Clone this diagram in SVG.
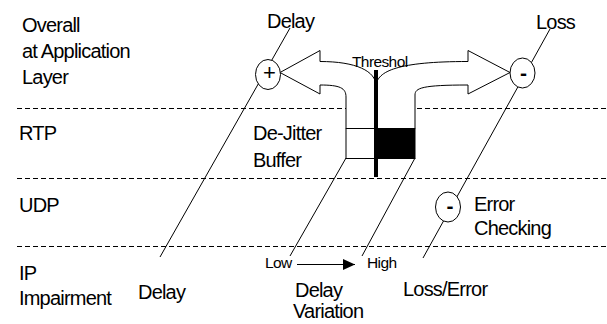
<svg xmlns="http://www.w3.org/2000/svg" width="607" height="324" viewBox="0 0 607 324">
  <style>
    text { font-family: "Liberation Sans", Arial, sans-serif; font-size: 20px; letter-spacing: -0.8px; fill: #000; }
    .small { font-size: 15.5px; letter-spacing: -0.6px; }
    .sign { font-size: 21px; font-weight: bold; text-anchor: middle; letter-spacing: 0; }
    .plus { font-size: 22px; text-anchor: middle; letter-spacing: 0; }
    .layer { stroke: #000; stroke-width: 1; stroke-dasharray: 5 3; }
    .wire { stroke: #000; stroke-width: 1; fill: none; }
    .circle { fill: #fff; stroke: #000; stroke-width: 1; }
  </style>
  <defs>
    <marker id="head" markerWidth="12" markerHeight="11" refX="12" refY="5.5" orient="auto" markerUnits="userSpaceOnUse">
      <path d="M0,0 L12,5.5 L0,11 Z" fill="#000"/>
    </marker>
  </defs>

  <rect width="607" height="324" fill="#fff"/>

  <!-- layer separators -->
  <g id="layers">
    <line class="layer" x1="17" y1="108.5" x2="607" y2="108.5"/>
    <line class="layer" x1="17" y1="178.5" x2="607" y2="178.5"/>
    <line class="layer" x1="17" y1="246.5" x2="607" y2="246.5"/>
  </g>

  <!-- layer names -->
  <g id="layer-labels">
    <text x="22" y="32">Overall</text>
    <text x="22" y="58">at Application</text>
    <text x="22" y="84">Layer</text>
    <text x="19" y="140">RTP</text>
    <text x="19" y="212">UDP</text>
    <text x="19" y="280">IP</text>
    <text x="19" y="305">Impairment</text>
  </g>

  <!-- connectors -->
  <g id="connectors">
    <line class="wire" x1="160" y1="257" x2="290" y2="28"/>
    <line class="wire" x1="423" y1="258" x2="550" y2="29"/>
    <line class="wire" x1="346" y1="158" x2="290" y2="256"/>
    <line class="wire" x1="415" y1="158" x2="362" y2="256"/>
    <line class="wire" x1="297" y1="264.5" x2="355" y2="264.5" marker-end="url(#head)"/>
  </g>

  <!-- two-way arrow rising out of the buffer -->
  <g id="split-arrow">
    <path d="M280,72.5 L320,50.5 L320,61.5 C356,61.5 376,71 376,86 C377,71 398,61.5 468,61.5 L468,50.5 L510,72.5 L468,94 L468,85 C422,85 415,88 415,95 L415,128.5 L346,128.5 L346,97 C346,88 340,85 320,85 L320,94 Z" fill="#fff" stroke="#000" stroke-width="1"/>
  </g>

  <!-- de-jitter buffer -->
  <g id="buffer">
    <rect x="346" y="128.5" width="30" height="30" fill="#fff" stroke="#000" stroke-width="1"/>
    <rect x="376" y="128.5" width="39" height="30" fill="#000" stroke="#000" stroke-width="1"/>
    <text x="253" y="140">De-Jitter</text>
    <text x="253" y="167">Buffer</text>
  </g>

  <!-- threshold bar -->
  <g id="threshold">
    <line x1="376" y1="70" x2="376" y2="177" stroke="#000" stroke-width="4"/>
    <text class="small" x="352" y="67">Threshol</text>
  </g>

  <g id="delay-node">
    <ellipse class="circle" cx="268" cy="74.5" rx="12.5" ry="15"/>
    <text class="plus" x="269.5" y="80">+</text>
    <text x="267" y="28">Delay</text>
  </g>

  <g id="loss-node">
    <ellipse class="circle" cx="522.5" cy="73" rx="12.5" ry="15"/>
    <text class="sign" x="523.5" y="79.5">-</text>
    <text x="536" y="29">Loss</text>
  </g>

  <g id="error-node">
    <ellipse class="circle" cx="448" cy="207" rx="12.5" ry="15"/>
    <text class="sign" x="450" y="212.5">-</text>
    <text x="474" y="211">Error</text>
    <text x="474" y="235">Checking</text>
  </g>

  <g id="ip-delay">
    <text x="138" y="299">Delay</text>
  </g>

  <g id="ip-variation">
    <text class="small" x="265" y="268">Low</text>
    <text class="small" x="367" y="268">High</text>
    <text x="295" y="297">Delay</text>
    <text x="293" y="318">Variation</text>
  </g>

  <g id="ip-loss">
    <text x="403" y="296">Loss/Error</text>
  </g>
</svg>
